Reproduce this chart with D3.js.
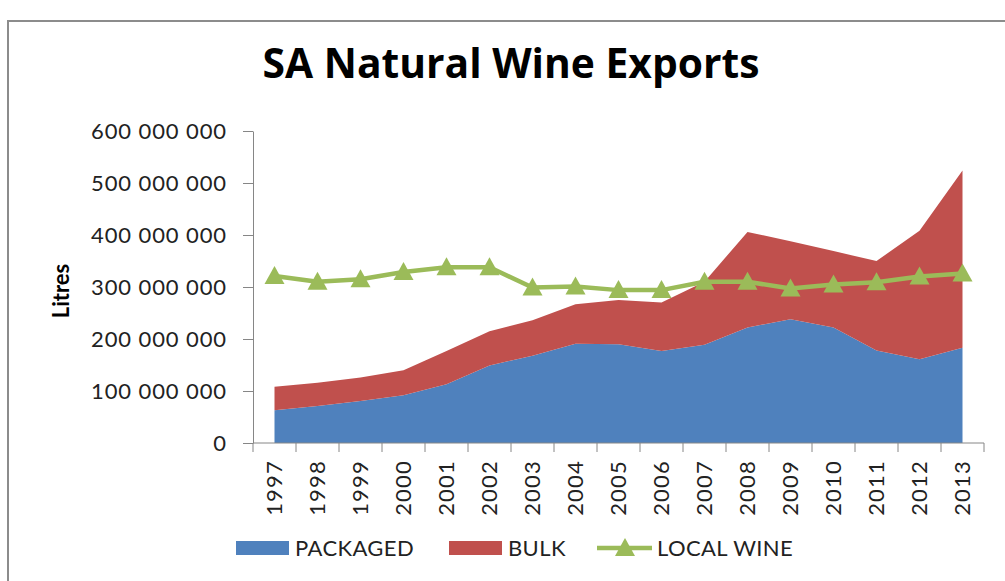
<!DOCTYPE html>
<html>
<head>
<meta charset="utf-8">
<script src="https://cdn.jsdelivr.net/npm/d3@7/dist/d3.min.js"></script>
<style>
  body { margin:0; background:#fff; }
  svg { display:block; font-family: Lato, "Open Sans", sans-serif; }
</style>
</head>
<body>
<div id="chart"></div>
<script>
// ---- data (litres) ----
var years = ['1997','1998','1999','2000','2001','2002','2003','2004','2005','2006','2007','2008','2009','2010','2011','2012','2013'];
var packaged = [63e6,71e6,81e6,92e6,113e6,149e6,168e6,191e6,190e6,177e6,189e6,222e6,238e6,222e6,178e6,161e6,183e6];
var bulk = [45e6,45e6,45e6,48e6,64e6,66e6,68e6,76e6,85e6,93e6,121e6,184e6,150e6,147e6,172e6,247e6,341e6];
var localWine = [321e6,310e6,315e6,329e6,338e6,338e6,299e6,301e6,294e6,294e6,310e6,310e6,297e6,305e6,309e6,320e6,326e6];
var yTicks = [0,100e6,200e6,300e6,400e6,500e6,600e6];
var seriesNames = ['PACKAGED','BULK','LOCAL WINE'];

var W = 1005, H = 581;
var colors = { PACKAGED:'#4F81BD', BULK:'#C0504D', 'LOCAL WINE':'#9BBB59' };

var svg = d3.select('#chart').append('svg').attr('width', W).attr('height', H);

// chart border (runs off the right/bottom edge like the screenshot)
svg.append('rect').attr('x', 8).attr('y', 21).attr('width', 1100).attr('height', 700)
  .attr('fill', '#fff').attr('stroke', '#8c8c8c').attr('stroke-width', 2);

var x = d3.scaleBand().domain(years).range([253, 984]).padding(0);
var y = d3.scaleLinear().domain([0, 600e6]).range([443, 131]);
var cx = function(d) { return x(d) + x.bandwidth() / 2; };

// ---- stacked areas ----
var rows = years.map(function(yr, i) { return { year: yr, PACKAGED: packaged[i], BULK: bulk[i] }; });
var stack = d3.stack().keys(['PACKAGED','BULK'])(rows);
var area = d3.area()
  .x(function(d) { return cx(d.data.year); })
  .y0(function(d) { return y(d[0]); })
  .y1(function(d) { return y(d[1]); });

svg.append('g').selectAll('path').data(stack).join('path')
  .attr('d', area)
  .attr('fill', function(s) { return colors[s.key]; });

// ---- axes ----
var fmt = d3.formatLocale({ decimal:'.', thousands:' ', grouping:[3], currency:['',''] }).format(',');

var yAxis = svg.append('g').attr('transform', 'translate(253,0)')
  .call(d3.axisLeft(y).tickValues(yTicks).tickFormat(fmt).tickSize(10).tickSizeOuter(0).tickPadding(16));
yAxis.selectAll('line, path').attr('stroke', '#868686');
yAxis.selectAll('text').attr('font-size', 22).attr('fill', '#222').attr('letter-spacing', 0.9)
  .style('font-family', 'Lato, "Open Sans", sans-serif');

var xg = svg.append('g');
xg.append('line').attr('x1', x.range()[0]).attr('x2', x.range()[1]).attr('y1', y(0)).attr('y2', y(0))
  .attr('stroke', '#868686');
var edges = years.map(function(d) { return x(d); }).concat([x.range()[1]]);
xg.selectAll('line.tk').data(edges).join('line').attr('class', 'tk')
  .attr('x1', function(d) { return d; }).attr('x2', function(d) { return d; })
  .attr('y1', y(0)).attr('y2', y(0) + 9).attr('stroke', '#868686');
xg.selectAll('text').data(years).join('text')
  .attr('transform', function(d) { return 'translate(' + cx(d) + ',460) rotate(-90)'; })
  .attr('text-anchor', 'end').attr('dy', '0.36em')
  .attr('font-size', 22).attr('fill', '#222').attr('letter-spacing', 1.2)
  .text(function(d) { return d; });

// ---- local wine line ----
var line = d3.line().x(function(d, i) { return cx(years[i]); }).y(function(d) { return y(d); });
svg.append('path').datum(localWine).attr('d', line)
  .attr('fill', 'none').attr('stroke', colors['LOCAL WINE']).attr('stroke-width', 4.5).attr('stroke-linejoin', 'round');
var tri = 'M0,-10L10,8L-10,8Z';
svg.append('g').selectAll('path').data(localWine).join('path')
  .attr('d', tri)
  .attr('transform', function(d, i) { return 'translate(' + cx(years[i]) + ',' + y(d) + ')'; })
  .attr('fill', colors['LOCAL WINE']);

// ---- titles ----
var title = svg.append('text').attr('x', 511).attr('y', 78).attr('text-anchor', 'middle')
  .attr('font-weight', 'bold').attr('font-size', 40).attr('fill', '#000')
  .style('font-family', '"Open Sans", Lato, sans-serif')
  .text('SA Natural Wine Exports');
var tw = title.node().getComputedTextLength();
title.attr('font-size', 40 * 497 / tw);

svg.append('text').attr('transform', 'translate(61,291) rotate(-90)')
  .attr('text-anchor', 'middle').attr('dy', '0.35em')
  .attr('font-weight', 'bold').attr('font-size', 22).attr('fill', '#000')
  .text('Litres');

// ---- legend ----
var legendX = [236, 449, 597];
var leg = svg.append('g').selectAll('g').data(seriesNames).join('g')
  .attr('transform', function(d, i) { return 'translate(' + legendX[i] + ',548)'; });
leg.filter(function(d) { return d !== 'LOCAL WINE'; }).append('rect')
  .attr('x', 0).attr('y', -7).attr('width', 53).attr('height', 14)
  .attr('fill', function(d) { return colors[d]; });
var lw = leg.filter(function(d) { return d === 'LOCAL WINE'; });
lw.append('line').attr('x1', 0).attr('x2', 55).attr('stroke', colors['LOCAL WINE']).attr('stroke-width', 4.5);
lw.append('path').attr('d', tri).attr('transform', 'translate(28,0)').attr('fill', colors['LOCAL WINE']);
leg.append('text').attr('x', function(d) { return d === 'LOCAL WINE' ? 60 : 59; })
  .attr('dy', '0.36em').attr('font-size', 22).attr('fill', '#222').attr('letter-spacing', 0.4)
  .text(function(d) { return d; });
</script>
</body>
</html>
